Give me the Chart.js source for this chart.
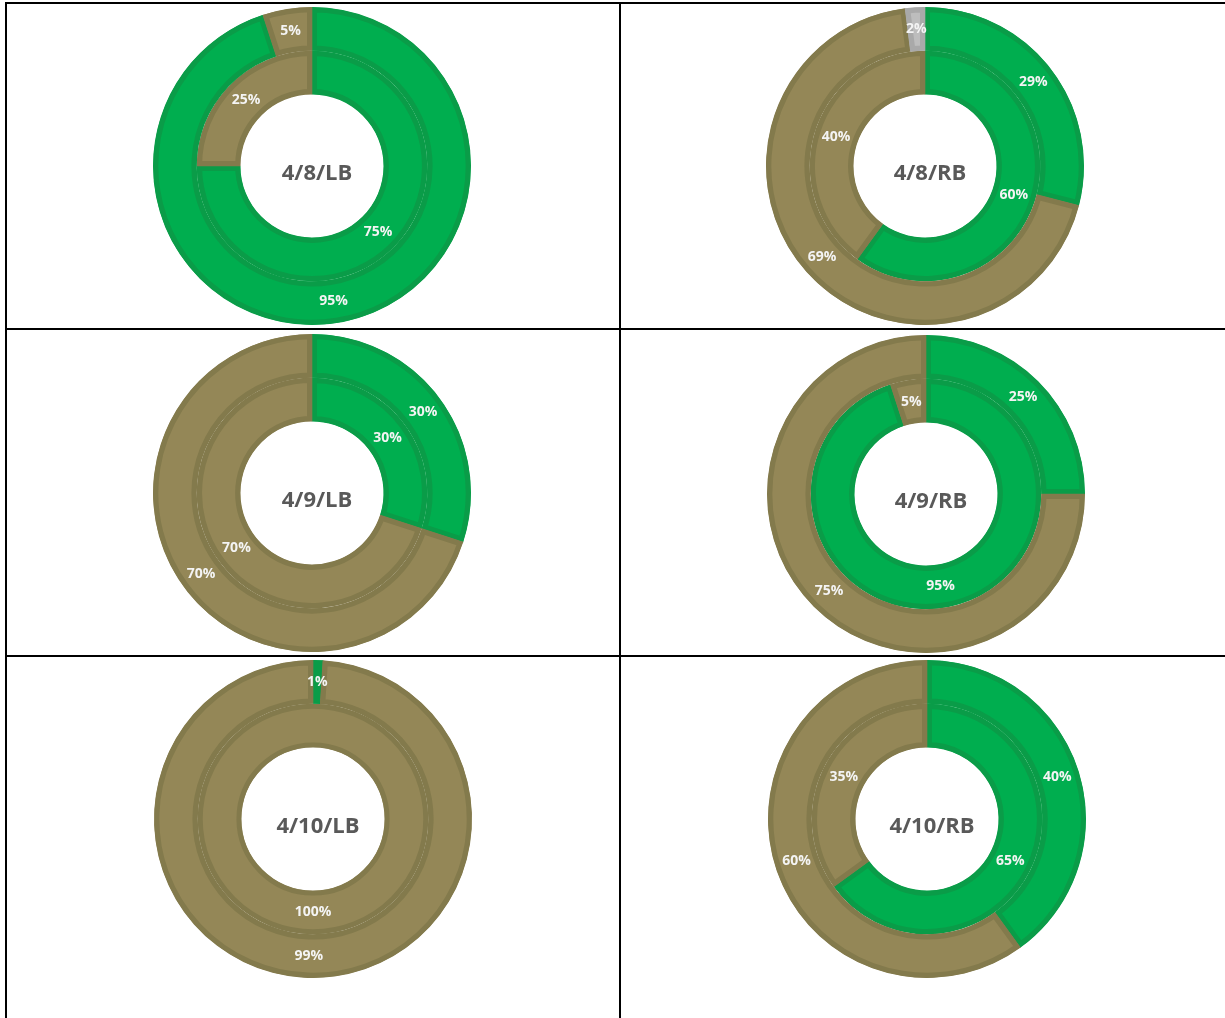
<!DOCTYPE html>
<html>
<head>
<meta charset="utf-8">
<script src="https://cdn.jsdelivr.net/npm/chart.js@4.4.0/dist/chart.umd.min.js"></script>
<style>
  html, body { margin: 0; padding: 0; background: #fff; }
  #page { position: relative; width: 1225px; height: 1018px; overflow: hidden; background: #fff; }
  .line { position: absolute; background: #000; }
  .pie { position: absolute; width: 340px; height: 340px; }
</style>
</head>
<body>
<div id="page">
  <div class="line" style="left:5px; top:2px; width:1220px; height:2px;"></div>
  <div class="line" style="left:5px; top:328px; width:1220px; height:2px;"></div>
  <div class="line" style="left:5px; top:655px; width:1220px; height:2px;"></div>
  <div class="line" style="left:5px; top:2px; width:2px; height:1016px;"></div>
  <div class="line" style="left:619px; top:2px; width:2px; height:1016px;"></div>
</div>
<script>
// one entry per table cell
var chartTitles = ['4/8/LB', '4/8/RB', '4/9/LB', '4/9/RB', '4/10/LB', '4/10/RB'];
var segmentNames = ['Green', 'Olive', 'Gray'];

// outer ring (%)
var outerGreen = [95, 29, 30, 25, 1, 40];
var outerOlive = [5, 69, 70, 75, 99, 60];
var outerGray  = [0, 2, 0, 0, 0, 0];

// inner ring (%)
var innerGreen = [75, 60, 30, 95, 0, 65];
var innerOlive = [25, 40, 70, 5, 100, 35];

// donut centres on the page
var centres = [
    [312, 166], [925, 166],
    [312, 493], [926, 494],
    [313, 819], [927, 819]
];

var fills   = ['#00AE4F', '#948757', '#BDBDBD'];
var borders = ['#0A9C48', '#837A4C', '#A9A9A9'];
var EDGE = 5;

// a ring holding a single segment gets its edges drawn as plain circles (no radial seam)
function ring(name, values) {
    var solid = values.filter(function (v) { return v > 0; }).length === 1;
    return {
        label: name,
        data: values,
        solid: solid,
        backgroundColor: fills,
        borderColor: borders,
        borderWidth: solid ? 0 : EDGE,
        borderAlign: 'inner'
    };
}

const solidEdges = {
    id: 'solidEdges',
    afterDatasetDraw(chart, args) {
        const ds = chart.data.datasets[args.index];
        if (!ds.solid) return;
        const ctx = chart.ctx;
        ctx.save();
        ctx.lineWidth = EDGE;
        args.meta.data.forEach(function (arc, j) {
            if (!ds.data[j]) return;
            const p = arc.getProps(['x', 'y', 'innerRadius', 'outerRadius']);
            ctx.strokeStyle = borders[j];
            ctx.beginPath();
            ctx.arc(p.x, p.y, p.outerRadius - EDGE / 2, 0, Math.PI * 2);
            ctx.stroke();
            ctx.beginPath();
            ctx.arc(p.x, p.y, p.innerRadius + EDGE / 2, 0, Math.PI * 2);
            ctx.stroke();
        });
        ctx.restore();
    }
};

const labelPlugin = {
    id: 'pctLabels',
    afterDatasetsDraw(chart) {
        const ctx = chart.ctx;
        ctx.save();
        ctx.font = 'bold 14px "Open Sans"';
        ctx.fillStyle = '#F4F4F4';
        ctx.textAlign = 'center';
        ctx.textBaseline = 'middle';
        chart.data.datasets.forEach(function (ds, i) {
            chart.getDatasetMeta(i).data.forEach(function (arc, j) {
                if (!ds.data[j]) return;
                const p = arc.getCenterPoint();
                ctx.fillText(ds.data[j] + '%', p.x, p.y);
            });
        });
        // centre title
        const a = chart.chartArea;
        ctx.font = 'bold 22px "Open Sans"';
        ctx.fillStyle = '#595959';
        ctx.textBaseline = 'alphabetic';
        ctx.fillText(chart.options.plugins.centreTitle, (a.left + a.right) / 2 + 5, (a.top + a.bottom) / 2 + 14);
        ctx.restore();
    }
};

var page = document.getElementById('page');
for (var i = 0; i < chartTitles.length; i++) {
    var cv = document.createElement('canvas');
    cv.className = 'pie';
    cv.width = 340;
    cv.height = 340;
    cv.style.left = (centres[i][0] - 170) + 'px';
    cv.style.top = (centres[i][1] - 170) + 'px';
    page.appendChild(cv);

    new Chart(cv, {
        type: 'doughnut',
        data: {
            labels: segmentNames,
            datasets: [
                ring('Outer', [outerGreen[i], outerOlive[i], outerGray[i]]),
                ring('Inner', [innerGreen[i], innerOlive[i]])
            ]
        },
        options: {
            responsive: false,
            animation: false,
            events: [],
            radius: 159,
            cutout: '45%',
            layout: { padding: 0 },
            plugins: {
                legend: { display: false },
                tooltip: { enabled: false },
                centreTitle: chartTitles[i]
            }
        },
        plugins: [solidEdges, labelPlugin]
    });
}
</script>
</body>
</html>
